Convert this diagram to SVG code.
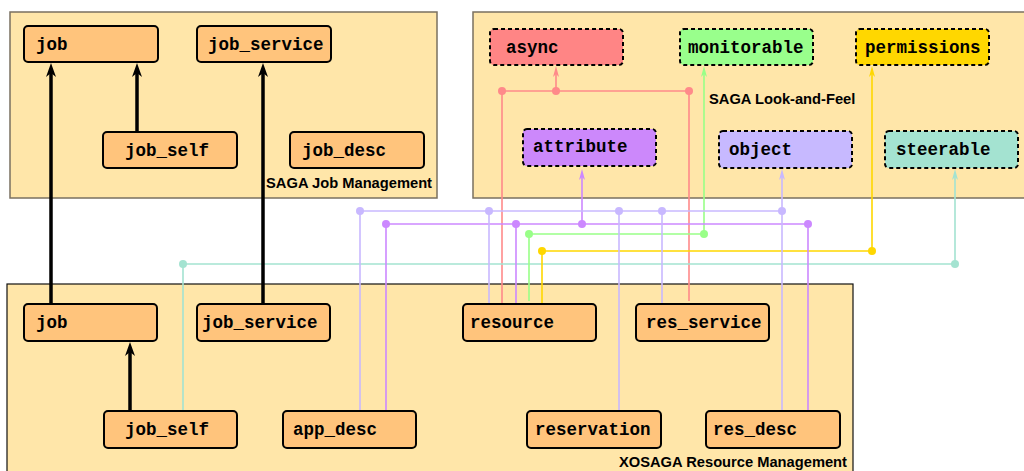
<svg xmlns="http://www.w3.org/2000/svg" width="1024" height="471" viewBox="0 0 1024 471">
<style>
.panelT{fill:#FFE6A9;stroke:#7a7060;stroke-width:1.5}
.panelB{fill:#FFE6A9;stroke:#111;stroke-width:1.2}
.node{fill:#FFC47C;stroke:#000;stroke-width:2}
.dnode{stroke:#000;stroke-width:2;stroke-dasharray:4 3}
.nt{font-family:"Liberation Mono","Courier New",monospace;font-weight:bold;font-size:17.5px;fill:#000}
.pl{font-family:"Liberation Sans",Arial,sans-serif;font-weight:bold;font-size:14.7px;fill:#000}
.blk{stroke:#000;stroke-width:3.5;fill:none}
.c{fill:none;stroke-width:1.6}
.red{stroke:#FF8A8A}.grn{stroke:#99FF88}.yel{stroke:#FFD700}.tea{stroke:#A4E3D1}.lav{stroke:#C8B8FF}.pur{stroke:#CC88FF}
.dred{fill:#FF8A8A}.dgrn{fill:#99FF88}.dyel{fill:#FFD700}.dtea{fill:#A4E3D1}.dlav{fill:#C8B8FF}.dpur{fill:#CC88FF}
</style>
<defs>
<marker id="ab" viewBox="0 0 14 10" markerWidth="14" markerHeight="10" refX="6" refY="5" orient="auto" markerUnits="userSpaceOnUse"><path d="M0,0 L14,5 L0,10 L4,5 z" fill="#000"/></marker>
<marker id="ared" viewBox="0 0 11 6" markerWidth="11" markerHeight="6" refX="5" refY="3" orient="auto" markerUnits="userSpaceOnUse"><path d="M0,0 L11,3 L0,6 L3,3 z" fill="#FF8A8A"/></marker>
<marker id="agrn" viewBox="0 0 11 6" markerWidth="11" markerHeight="6" refX="5" refY="3" orient="auto" markerUnits="userSpaceOnUse"><path d="M0,0 L11,3 L0,6 L3,3 z" fill="#99FF88"/></marker>
<marker id="ayel" viewBox="0 0 11 6" markerWidth="11" markerHeight="6" refX="5" refY="3" orient="auto" markerUnits="userSpaceOnUse"><path d="M0,0 L11,3 L0,6 L3,3 z" fill="#FFD700"/></marker>
<marker id="atea" viewBox="0 0 11 6" markerWidth="11" markerHeight="6" refX="5" refY="3" orient="auto" markerUnits="userSpaceOnUse"><path d="M0,0 L11,3 L0,6 L3,3 z" fill="#A4E3D1"/></marker>
<marker id="alav" viewBox="0 0 11 6" markerWidth="11" markerHeight="6" refX="5" refY="3" orient="auto" markerUnits="userSpaceOnUse"><path d="M0,0 L11,3 L0,6 L3,3 z" fill="#C8B8FF"/></marker>
<marker id="apur" viewBox="0 0 11 6" markerWidth="11" markerHeight="6" refX="5" refY="3" orient="auto" markerUnits="userSpaceOnUse"><path d="M0,0 L11,3 L0,6 L3,3 z" fill="#CC88FF"/></marker>
</defs>

<g id="panels">
<rect id="saga-job-management" class="panelT" x="10" y="12" width="427" height="186"/>
<rect id="saga-look-and-feel" class="panelT" x="473" y="12" width="570" height="186"/>
<rect id="xosaga-resource-management" class="panelB" x="7" y="284" width="846" height="200"/>
<text class="pl" x="432" y="188" text-anchor="end">SAGA Job Management</text>
<text class="pl" x="709" y="104">SAGA Look-and-Feel</text>
<text class="pl" x="847" y="467" text-anchor="end">XOSAGA Resource Management</text>
</g>

<g id="connectors">
<!-- red: async -->
<polyline class="c red" points="502,304 502,91 689,91 689,301"/>
<line class="c red" x1="556" y1="91" x2="556" y2="72" marker-end="url(#ared)"/>
<circle class="dred" cx="502" cy="91" r="4"/><circle class="dred" cx="556" cy="91" r="4"/><circle class="dred" cx="689" cy="91" r="4"/>
<!-- teal: steerable -->
<polyline class="c tea" points="183,411 183,264 955,264 955,175" marker-end="url(#atea)"/>
<circle class="dtea" cx="183" cy="264" r="4"/><circle class="dtea" cx="955" cy="264" r="4"/>
<!-- yellow: permissions -->
<polyline class="c yel" points="542,304 542,251 872,251 872,72" marker-end="url(#ayel)"/>
<circle class="dyel" cx="542" cy="251" r="4"/><circle class="dyel" cx="872" cy="251" r="4"/>
<!-- green: monitorable -->
<polyline class="c grn" points="529,301 529,234 704,234 704,72" marker-end="url(#agrn)"/>
<circle class="dgrn" cx="529" cy="234" r="4"/><circle class="dgrn" cx="704" cy="234" r="4"/>
<!-- purple: attribute -->
<line class="c pur" x1="386" y1="224" x2="808" y2="224"/>
<line class="c pur" x1="386" y1="224" x2="386" y2="411"/>
<line class="c pur" x1="516" y1="224" x2="516" y2="304"/>
<line class="c pur" x1="808" y1="224" x2="808" y2="411"/>
<line class="c pur" x1="582" y1="224" x2="582" y2="175" marker-end="url(#apur)"/>
<circle class="dpur" cx="386" cy="224" r="4"/><circle class="dpur" cx="516" cy="224" r="4"/><circle class="dpur" cx="582" cy="224" r="4"/><circle class="dpur" cx="808" cy="224" r="4"/>
<!-- lavender: object -->
<line class="c lav" x1="360" y1="211" x2="782" y2="211"/>
<line class="c lav" x1="360" y1="211" x2="360" y2="411"/>
<line class="c lav" x1="489" y1="211" x2="489" y2="304"/>
<line class="c lav" x1="619" y1="211" x2="619" y2="411"/>
<line class="c lav" x1="662" y1="211" x2="662" y2="304"/>
<line class="c lav" x1="782" y1="211" x2="782" y2="411"/>
<line class="c lav" x1="782" y1="211" x2="782" y2="175" marker-end="url(#alav)"/>
<circle class="dlav" cx="360" cy="211" r="4"/><circle class="dlav" cx="489" cy="211" r="4"/><circle class="dlav" cx="619" cy="211" r="4"/><circle class="dlav" cx="662" cy="211" r="4"/><circle class="dlav" cx="782" cy="211" r="4"/>
<!-- black inheritance arrows -->
<line class="blk" x1="51" y1="304" x2="51" y2="71" marker-end="url(#ab)"/>
<line class="blk" x1="137" y1="132" x2="137" y2="71" marker-end="url(#ab)"/>
<line class="blk" x1="263" y1="304" x2="263" y2="71" marker-end="url(#ab)"/>
<line class="blk" x1="130" y1="411" x2="130" y2="350" marker-end="url(#ab)"/>
</g>

<g id="n-job-top"><rect class="node" x="24" y="26" width="134" height="36" rx="4"/><text class="nt" x="36" y="50">job</text></g>
<g id="n-job_service-top"><rect class="node" x="197" y="26" width="134" height="36" rx="4"/><text class="nt" x="208" y="50">job_service</text></g>
<g id="n-job_self-top"><rect class="node" x="103" y="132" width="134" height="36" rx="4"/><text class="nt" x="125" y="156">job_self</text></g>
<g id="n-job_desc"><rect class="node" x="290" y="132" width="134" height="36" rx="4"/><text class="nt" x="302" y="156">job_desc</text></g>

<g id="n-async"><rect class="dnode" fill="#FF8585" x="490" y="29" width="133" height="36" rx="4"/><text class="nt" x="506" y="53">async</text></g>
<g id="n-monitorable"><rect class="dnode" fill="#99FF8C" x="680" y="29" width="133" height="36" rx="4"/><text class="nt" x="688" y="53">monitorable</text></g>
<g id="n-permissions"><rect class="dnode" fill="#FFD700" x="856" y="29" width="133" height="36" rx="4"/><text class="nt" x="865" y="53">permissions</text></g>
<g id="n-attribute"><rect class="dnode" fill="#CC88FB" x="523" y="129" width="133" height="37" rx="4"/><text class="nt" x="533" y="152">attribute</text></g>
<g id="n-object"><rect class="dnode" fill="#C7B9FF" x="719" y="131" width="133" height="37" rx="4"/><text class="nt" x="729" y="155">object</text></g>
<g id="n-steerable"><rect class="dnode" fill="#A4E3D1" x="885" y="131" width="133" height="37" rx="4"/><text class="nt" x="896" y="155">steerable</text></g>

<g id="n-job-bottom"><rect class="node" x="24" y="304" width="133" height="37" rx="4"/><text class="nt" x="36" y="328">job</text></g>
<g id="n-job_service-bottom"><rect class="node" x="197" y="304" width="133" height="37" rx="4"/><text class="nt" x="202" y="328">job_service</text></g>
<g id="n-resource"><rect class="node" x="463" y="304" width="133" height="37" rx="4"/><text class="nt" x="470" y="328">resource</text></g>
<g id="n-res_service"><rect class="node" x="636" y="304" width="133" height="37" rx="4"/><text class="nt" x="646" y="328">res_service</text></g>
<g id="n-job_self-bottom"><rect class="node" x="104" y="411" width="133" height="37" rx="4"/><text class="nt" x="125" y="435">job_self</text></g>
<g id="n-app_desc"><rect class="node" x="283" y="411" width="133" height="37" rx="4"/><text class="nt" x="293" y="435">app_desc</text></g>
<g id="n-reservation"><rect class="node" x="527" y="411" width="134" height="37" rx="4"/><text class="nt" x="535" y="435">reservation</text></g>
<g id="n-res_desc"><rect class="node" x="706" y="411" width="134" height="37" rx="4"/><text class="nt" x="713" y="435">res_desc</text></g>
</svg>
